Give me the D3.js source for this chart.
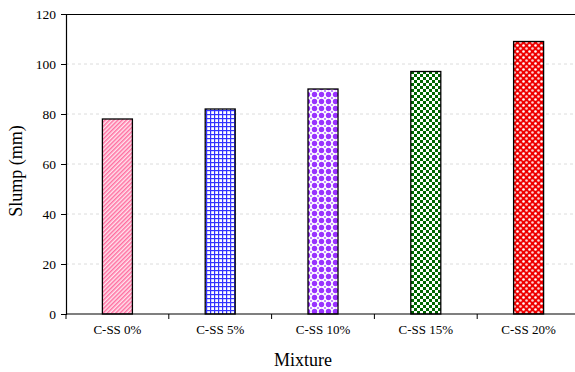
<!DOCTYPE html>
<html>
<head>
<meta charset="utf-8">
<script src="https://cdn.jsdelivr.net/npm/d3@7/dist/d3.min.js"></script>
<style>
  html, body { margin: 0; padding: 0; background: #fff; }
  svg { display: block; }
  svg text { font-family: "Times New Roman", "Liberation Serif", Tinos, serif !important; fill: #000; }
</style>
</head>
<body>
<svg id="chart" width="575" height="372"></svg>
<script>
// Slump of concrete mixtures with increasing steel-slag replacement
const categories = ["C-SS 0%", "C-SS 5%", "C-SS 10%", "C-SS 15%", "C-SS 20%"];
const slump = [78, 82, 90, 97, 109];
const yTicks = [0, 20, 40, 60, 80, 100, 120];
const patternIds = ["p-hatch", "p-grid", "p-dots", "p-check", "p-bubble"];

const svg = d3.select("#chart");
const margin = { left: 66, top: 14, right: -5, bottom: 58 };
const W = 575, H = 372;
const plotW = W - margin.left - margin.right;
const plotH = H - margin.top - margin.bottom;

// Fill patterns for the bars
const defs = svg.append("defs");

// pink diagonal hatching
const p1 = defs.append("pattern").attr("id", "p-hatch").attr("patternUnits", "userSpaceOnUse")
  .attr("width", 3).attr("height", 3).attr("patternTransform", "rotate(45)");
p1.append("rect").attr("width", 3).attr("height", 3).attr("fill", "#ffe4ee");
p1.append("rect").attr("width", 1.5).attr("height", 3).attr("fill", "#ff6fa0");

// blue square grid
const p2 = defs.append("pattern").attr("id", "p-grid").attr("patternUnits", "userSpaceOnUse")
  .attr("width", 4).attr("height", 4);
p2.append("rect").attr("width", 4).attr("height", 4).attr("fill", "#fff");
p2.append("rect").attr("x", 0).attr("y", 0).attr("width", 1.2).attr("height", 4).attr("fill", "#3333ff");
p2.append("rect").attr("x", 0).attr("y", 0).attr("width", 4).attr("height", 1.2).attr("fill", "#3333ff");

// purple dots
const p3 = defs.append("pattern").attr("id", "p-dots").attr("patternUnits", "userSpaceOnUse")
  .attr("width", 7).attr("height", 7);
p3.append("rect").attr("width", 7).attr("height", 7).attr("fill", "#fff");
p3.append("circle").attr("cx", 3.5).attr("cy", 3.5).attr("r", 2.7).attr("fill", "#9933ff");
[[0,0],[7,0],[0,7],[7,7]].forEach(([x,y]) =>
  p3.append("circle").attr("cx", x).attr("cy", y).attr("r", 1.1).attr("fill", "#b070ff"));

// green checkerboard
const p4 = defs.append("pattern").attr("id", "p-check").attr("patternUnits", "userSpaceOnUse")
  .attr("width", 6).attr("height", 6);
p4.append("rect").attr("width", 6).attr("height", 6).attr("fill", "#fff");
p4.append("rect").attr("x", 0).attr("y", 0).attr("width", 3).attr("height", 3).attr("fill", "#006600");
p4.append("rect").attr("x", 3).attr("y", 3).attr("width", 3).attr("height", 3).attr("fill", "#006600");

// red with white bubbles
const p5 = defs.append("pattern").attr("id", "p-bubble").attr("patternUnits", "userSpaceOnUse")
  .attr("width", 6).attr("height", 6);
p5.append("rect").attr("width", 6).attr("height", 6).attr("fill", "#ee0000");
p5.append("circle").attr("cx", 1.5).attr("cy", 1.5).attr("r", 1.3).attr("fill", "#fff");
p5.append("circle").attr("cx", 4.5).attr("cy", 4.5).attr("r", 1.3).attr("fill", "#ffd0d0");

const g = svg.append("g").attr("transform", `translate(${margin.left},${margin.top})`);

const x = d3.scaleBand().domain(categories).range([0, plotW]).paddingInner(0).paddingOuter(0);
const y = d3.scaleLinear().domain([0, 120]).range([plotH, 0]);

// light dashed gridlines
g.append("g").selectAll("line").data(yTicks.filter(t => t > 0 && t < 120)).join("line")
  .attr("x1", 0).attr("x2", plotW)
  .attr("y1", d => y(d)).attr("y2", d => y(d))
  .attr("stroke", "#dcdcdc").attr("stroke-width", 1).attr("stroke-dasharray", "3,3");

// bars
const barW = 30;
g.append("g").selectAll("rect").data(slump).join("rect")
  .attr("x", (d, i) => x(categories[i]) + x.bandwidth() / 2 - barW / 2)
  .attr("y", d => y(d))
  .attr("width", barW)
  .attr("height", d => plotH - y(d))
  .attr("fill", (d, i) => `url(#${patternIds[i]})`)
  .attr("stroke", "#000").attr("stroke-width", 1.3);

// top frame line
g.append("line").attr("x1", 0).attr("x2", plotW).attr("y1", 0.5).attr("y2", 0.5)
  .attr("stroke", "#000").attr("stroke-width", 1.2);

// y axis
const yAxis = g.append("g").call(d3.axisLeft(y).tickValues(yTicks).tickSize(5).tickPadding(5));
yAxis.select(".domain").attr("stroke-width", 1.2);
yAxis.selectAll("text").attr("font-size", 13.5);

// x axis with ticks at category boundaries
const xAxis = g.append("g").attr("transform", `translate(0,${plotH})`);
xAxis.append("line").attr("x1", 0).attr("x2", plotW).attr("stroke", "#000").attr("stroke-width", 1.2);
const bounds = d3.range(categories.length + 1).map(i => i * x.step());
xAxis.selectAll("line.tk").data(bounds).join("line").attr("class", "tk")
  .attr("x1", d => d).attr("x2", d => d).attr("y1", 0).attr("y2", 5)
  .attr("stroke", "#000").attr("stroke-width", 1);
xAxis.selectAll("text").data(categories).join("text")
  .attr("x", d => x(d) + x.bandwidth() / 2).attr("y", 20)
  .attr("text-anchor", "middle").attr("font-size", 13).text(d => d);

// axis titles
svg.append("text").attr("x", 303).attr("y", 366).attr("text-anchor", "middle")
  .attr("font-size", 18).text("Mixture");
svg.append("text").attr("transform", "translate(22,171) rotate(-90)")
  .attr("text-anchor", "middle").attr("font-size", 18).text("Slump (mm)");
</script>
</body>
</html>
